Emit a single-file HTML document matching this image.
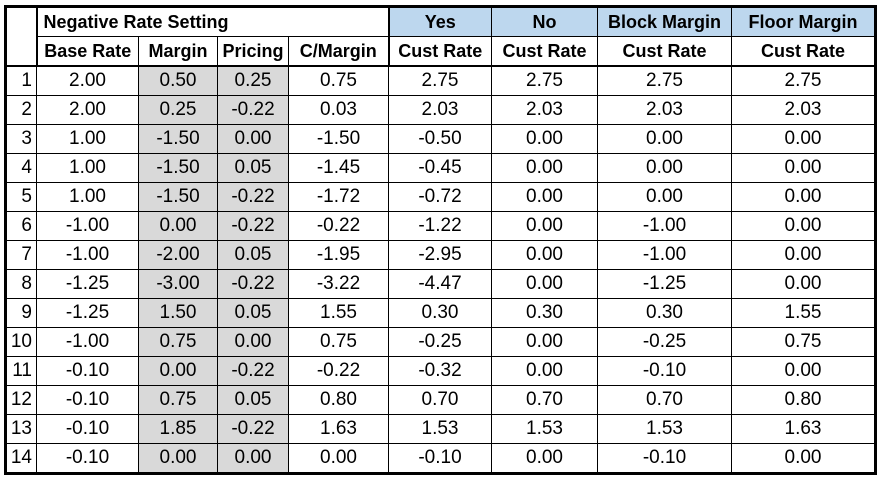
<!DOCTYPE html>
<html><head><style>
html,body{margin:0;padding:0;background:#fff;width:880px;height:480px;overflow:hidden}
table{position:absolute;left:4px;top:5px;border-collapse:collapse;table-layout:fixed;font-family:"Liberation Sans",sans-serif;font-size:19px;color:#000}
td{border:1px solid #000;padding:0;text-align:center;height:28px;line-height:28px;white-space:nowrap;overflow:hidden}
tr.h td{height:28px;line-height:28px;font-weight:bold;font-size:18px}
td.n{text-align:right;padding-right:4px}
td.g{background:#d9d9d9}
td.b{background:#bdd7ee}
table{border:3px solid #000}
</style></head><body>
<table>
<colgroup><col style="width:31px"><col style="width:102px"><col style="width:79px"><col style="width:71px"><col style="width:100px"><col style="width:103px"><col style="width:106px"><col style="width:134px"><col style="width:144px"></colgroup>
<tr class="h"><td rowspan="2" style="border-right:2px solid #000"></td><td colspan="4" style="text-align:left;padding-left:6px">Negative Rate Setting</td><td class="b" style="border-left:2px solid #000">Yes</td><td class="b">No</td><td class="b">Block Margin</td><td class="b">Floor Margin</td></tr>
<tr class="h" style="border-bottom:2px solid #000"><td>Base Rate</td><td>Margin</td><td>Pricing</td><td>C/Margin</td><td style="border-left:2px solid #000">Cust Rate</td><td>Cust Rate</td><td>Cust Rate</td><td>Cust Rate</td></tr>
<tr><td class="n">1</td><td>2.00</td><td class="g">0.50</td><td class="g">0.25</td><td>0.75</td><td>2.75</td><td>2.75</td><td>2.75</td><td>2.75</td></tr>
<tr><td class="n">2</td><td>2.00</td><td class="g">0.25</td><td class="g">-0.22</td><td>0.03</td><td>2.03</td><td>2.03</td><td>2.03</td><td>2.03</td></tr>
<tr><td class="n">3</td><td>1.00</td><td class="g">-1.50</td><td class="g">0.00</td><td>-1.50</td><td>-0.50</td><td>0.00</td><td>0.00</td><td>0.00</td></tr>
<tr><td class="n">4</td><td>1.00</td><td class="g">-1.50</td><td class="g">0.05</td><td>-1.45</td><td>-0.45</td><td>0.00</td><td>0.00</td><td>0.00</td></tr>
<tr><td class="n">5</td><td>1.00</td><td class="g">-1.50</td><td class="g">-0.22</td><td>-1.72</td><td>-0.72</td><td>0.00</td><td>0.00</td><td>0.00</td></tr>
<tr><td class="n">6</td><td>-1.00</td><td class="g">0.00</td><td class="g">-0.22</td><td>-0.22</td><td>-1.22</td><td>0.00</td><td>-1.00</td><td>0.00</td></tr>
<tr><td class="n">7</td><td>-1.00</td><td class="g">-2.00</td><td class="g">0.05</td><td>-1.95</td><td>-2.95</td><td>0.00</td><td>-1.00</td><td>0.00</td></tr>
<tr><td class="n">8</td><td>-1.25</td><td class="g">-3.00</td><td class="g">-0.22</td><td>-3.22</td><td>-4.47</td><td>0.00</td><td>-1.25</td><td>0.00</td></tr>
<tr><td class="n">9</td><td>-1.25</td><td class="g">1.50</td><td class="g">0.05</td><td>1.55</td><td>0.30</td><td>0.30</td><td>0.30</td><td>1.55</td></tr>
<tr><td class="n">10</td><td>-1.00</td><td class="g">0.75</td><td class="g">0.00</td><td>0.75</td><td>-0.25</td><td>0.00</td><td>-0.25</td><td>0.75</td></tr>
<tr><td class="n">11</td><td>-0.10</td><td class="g">0.00</td><td class="g">-0.22</td><td>-0.22</td><td>-0.32</td><td>0.00</td><td>-0.10</td><td>0.00</td></tr>
<tr><td class="n">12</td><td>-0.10</td><td class="g">0.75</td><td class="g">0.05</td><td>0.80</td><td>0.70</td><td>0.70</td><td>0.70</td><td>0.80</td></tr>
<tr><td class="n">13</td><td>-0.10</td><td class="g">1.85</td><td class="g">-0.22</td><td>1.63</td><td>1.53</td><td>1.53</td><td>1.53</td><td>1.63</td></tr>
<tr><td class="n">14</td><td>-0.10</td><td class="g">0.00</td><td class="g">0.00</td><td>0.00</td><td>-0.10</td><td>0.00</td><td>-0.10</td><td>0.00</td></tr>
</table>
</body></html>
